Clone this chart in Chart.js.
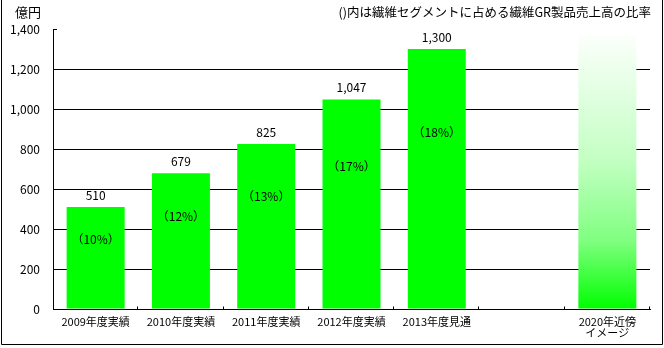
<!DOCTYPE html>
<html lang="ja">
<head>
<meta charset="utf-8">
<script src="https://cdn.jsdelivr.net/npm/chart.js@4.4.1/dist/chart.umd.min.js"></script>
<style>
  body { margin: 0; background: #fff; }
  canvas { display: block; }
</style>
</head>
<body>
<canvas id="graph" width="664" height="348"></canvas>
<script>
const years = ['2009年度実績', '2010年度実績', '2011年度実績', '2012年度実績', '2013年度見通', '', ['2020年近傍', 'イメージ']];
const sales = [510, 679, 825, 1047, 1300, null, null];
const shares = ['（10%）', '（12%）', '（13%）', '（17%）', '（18%）', null, null];
const vision = [null, null, null, null, null, null, 1365]; // 2020 image bar, no figure
const yTicks = [0, 200, 400, 600, 800, 1000, 1200, 1400];
const unitLabel = '億円';
const note = '()内は繊維セグメントに占める繊維GR製品売上高の比率';

const FONT = '"Noto Sans CJK JP", "Noto Sans", sans-serif';

// merge both series into one bar column so the slots stay centred
const barValues = sales.map((v, i) => v !== null ? v : vision[i]);

function visionFill(context) {
    const chart = context.chart;
    const y = chart.scales.y;
    if (!y || !chart.chartArea) return '#00ff00';
    const top = y.getPixelForValue(vision[6]);
    const g = chart.ctx.createLinearGradient(0, top, 0, y.getPixelForValue(0));
    g.addColorStop(0, '#fbfffb');
    g.addColorStop(0.45, '#c4ffc4');
    g.addColorStop(0.75, '#80ff80');
    g.addColorStop(1, '#00ff00');
    return g;
}

const decorations = {
    id: 'decorations',
    afterDatasetsDraw(chart) {
        const ctx = chart.ctx;
        const x = chart.scales.x;
        const y = chart.scales.y;
        const meta = chart.getDatasetMeta(0);
        ctx.save();
        ctx.fillStyle = '#000';
        ctx.textAlign = 'center';
        ctx.textBaseline = 'middle';
        ctx.font = '12px ' + FONT;
        sales.forEach((v, i) => {
            if (v === null) return;
            const bar = meta.data[i];
            ctx.fillText(v.toLocaleString('en-US'), bar.x, bar.y - 12);
            if (shares[i]) ctx.fillText(shares[i], bar.x, y.getPixelForValue(v * 0.68));
        });

        // little upward marks between categories on the x axis
        ctx.strokeStyle = '#000';
        ctx.lineWidth = 1;
        const bottom = Math.round(y.getPixelForValue(0)) + 0.5;
        const step = (x.right - x.left) / years.length;
        ctx.beginPath();
        for (let i = 1; i <= years.length; i++) {
            const px = Math.round(x.left + step * i) - 0.5;
            ctx.moveTo(px, bottom);
            ctx.lineTo(px, bottom - 3);
        }
        // short stub at the top of the value axis
        const top = Math.round(y.getPixelForValue(1400)) + 0.5;
        ctx.moveTo(x.left, top);
        ctx.lineTo(x.left + 4, top);
        ctx.stroke();

        // unit and note
        ctx.font = '13px ' + FONT;
        ctx.textAlign = 'left';
        ctx.fillText(unitLabel, 15, 12);
        ctx.font = '12.5px ' + FONT;
        ctx.textAlign = 'right';
        ctx.fillText(note, 651, 12);

        // frame
        ctx.beginPath();
        ctx.moveTo(1.5, 0);
        ctx.lineTo(1.5, 344.5);
        ctx.lineTo(662.5, 344.5);
        ctx.lineTo(662.5, 0);
        ctx.stroke();
        ctx.restore();
    }
};

new Chart(document.getElementById('graph').getContext('2d'), {
    type: 'bar',
    data: {
        labels: years,
        datasets: [{
            data: barValues,
            backgroundColor: (c) => c.dataIndex === 6 ? visionFill(c) : '#00ff00',
            borderWidth: 0,
            categoryPercentage: 1,
            barPercentage: 0.68
        }]
    },
    options: {
        responsive: false,
        animation: false,
        events: [],
        layout: { padding: { top: 29, right: 14, left: 0, bottom: 0 } },
        plugins: {
            legend: { display: false },
            tooltip: { enabled: false }
        },
        scales: {
            x: {
                offset: true,
                grid: { display: false, drawTicks: false },
                border: { color: '#000', width: 1 },
                ticks: {
                    color: '#000',
                    font: { family: FONT, size: 11, lineHeight: 1.0 },
                    padding: 7,
                    maxRotation: 0,
                    autoSkip: false
                },
                afterFit(scale) { scale.height = 39; }
            },
            y: {
                min: 0,
                max: 1400,
                afterBuildTicks(scale) { scale.ticks = yTicks.map(v => ({ value: v })); },
                grid: {
                    color: (c) => c.tick && c.tick.value === 1400 ? 'rgba(0,0,0,0)' : '#000',
                    lineWidth: 1,
                    drawTicks: false
                },
                border: { color: '#000', width: 1 },
                ticks: {
                    color: '#000',
                    font: { family: FONT, size: 12 },
                    padding: 13,
                    callback: (v) => v.toLocaleString('en-US')
                },
                afterFit(scale) { scale.width = 53; }
            }
        }
    },
    plugins: [decorations]
});
</script>
</body>
</html>
